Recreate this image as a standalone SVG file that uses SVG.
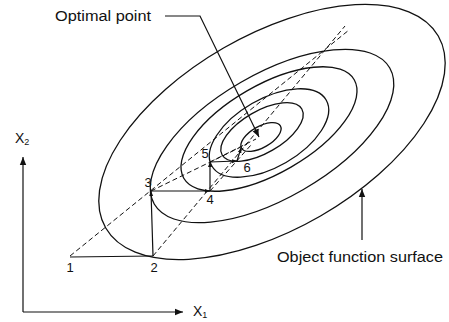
<svg xmlns="http://www.w3.org/2000/svg" width="449" height="322" viewBox="0 0 449 322">
<style>
.c{fill:none;stroke:#111;stroke-width:1.3}
.s{fill:none;stroke:#111;stroke-width:1.2}
.d{fill:none;stroke:#111;stroke-width:1;stroke-dasharray:5 3}
.t{font-family:"Liberation Sans",Arial,sans-serif;font-size:14px;fill:#111}
.n{font-family:"Liberation Sans",Arial,sans-serif;font-size:13px;fill:#111}
</style>
<defs>
<marker id="ah" viewBox="0 0 10 10" refX="10" refY="5" markerWidth="8" markerHeight="8" markerUnits="userSpaceOnUse" orient="auto"><path d="M0,1 L10,5 L0,9 z" fill="#111"/></marker>
<marker id="ahs" viewBox="0 0 10 10" refX="10" refY="5" markerWidth="5" markerHeight="5" markerUnits="userSpaceOnUse" orient="auto"><path d="M0,1 L10,5 L0,9 z" fill="#111"/></marker>
</defs>
<g id="contours">
<ellipse id="k6" class="c" cx="272" cy="132" rx="192" ry="97" transform="rotate(-30 272 132)"/>
<ellipse id="k5" class="c" cx="272" cy="136" rx="136" ry="62" transform="rotate(-30 272 136)"/>
<ellipse id="k4" class="c" cx="269" cy="129" rx="98.4" ry="44" transform="rotate(-30 269 129)"/>
<ellipse id="k3" class="c" cx="269" cy="133" rx="66" ry="34" transform="rotate(-30 269 133)"/>
<ellipse id="k2" class="c" cx="262" cy="132" rx="46" ry="21" transform="rotate(-30 262 132)"/>
<ellipse id="k1" class="c" cx="261" cy="137" rx="22.4" ry="10.5" transform="rotate(-30 261 137)"/>
</g>
<g id="connectors">
<line class="d" x1="70" y1="256" x2="349" y2="30"/>
<line class="d" x1="153" y1="256" x2="345" y2="26"/>
<line class="d" x1="151" y1="191" x2="247" y2="144"/>
<line class="d" x1="210" y1="191" x2="251" y2="145"/>
<line class="d" x1="210" y1="162" x2="256" y2="139"/>
<line class="s" x1="70" y1="257" x2="153" y2="256"/>
<line class="s" x1="153" y1="256" x2="151" y2="191" marker-end="url(#ahs)"/>
<line class="s" x1="151" y1="191" x2="210" y2="191" marker-end="url(#ahs)"/>
<line class="s" x1="210" y1="191" x2="210" y2="162" marker-end="url(#ahs)"/>
<line class="s" x1="210" y1="162" x2="237" y2="161" marker-end="url(#ahs)"/>
<line class="s" x1="237" y1="161" x2="241" y2="148" marker-end="url(#ahs)"/>
<polyline class="s" points="165,16 200,16 259,137" marker-end="url(#ah)"/>
<line class="s" x1="362" y1="240" x2="362" y2="189" marker-end="url(#ah)"/>
<line class="s" x1="23" y1="312" x2="23" y2="157" marker-end="url(#ah)"/>
<line class="s" x1="23" y1="312" x2="183" y2="312" marker-end="url(#ah)"/>
</g>
<g id="labels">
<text class="t" x="55" y="21" textLength="96" lengthAdjust="spacingAndGlyphs">Optimal point</text>
<text class="t" x="277" y="262" textLength="166" lengthAdjust="spacingAndGlyphs">Object function surface</text>
<text class="t" x="15" y="143">X<tspan font-size="9" dy="2">2</tspan></text>
<text class="t" x="193" y="316">X<tspan font-size="9" dy="2">1</tspan></text>
<text class="n" x="70" y="272" text-anchor="middle">1</text>
<text class="n" x="154" y="272" text-anchor="middle">2</text>
<text class="n" x="148" y="187" text-anchor="middle">3</text>
<text class="n" x="210" y="204" text-anchor="middle">4</text>
<text class="n" x="205" y="158" text-anchor="middle">5</text>
<text class="n" x="247" y="172" text-anchor="middle">6</text>
</g>
</svg>
